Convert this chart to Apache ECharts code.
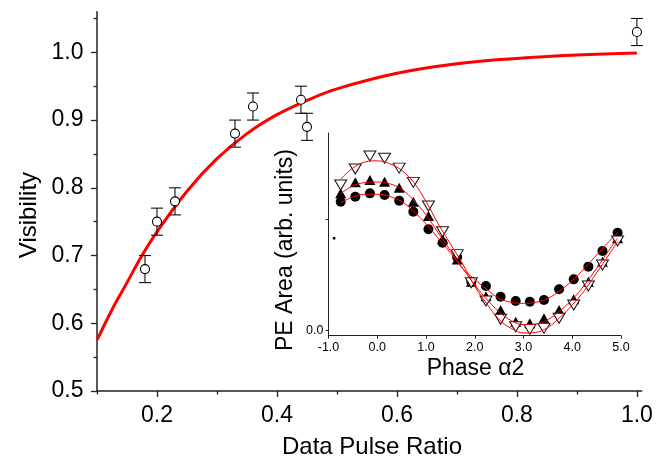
<!DOCTYPE html>
<html>
<head>
<meta charset="utf-8">
<script src="https://cdn.jsdelivr.net/npm/echarts@6/dist/echarts.min.js"></script>
<style>html,body{margin:0;padding:0;background:#fff}#c{width:669px;height:463px}</style>
</head>
<body>
<div id="c"></div>
<script>
// ---- Main chart data ----
const mainX   = [0.18, 0.20, 0.23, 0.33, 0.36, 0.44, 0.45, 1.00];
const mainY   = [0.68, 0.75, 0.78, 0.88, 0.92, 0.93, 0.89, 1.03];
const mainErr = [0.02, 0.02, 0.02, 0.02, 0.02, 0.02, 0.02, 0.02];
const fitX = [0.10, 0.125, 0.15, 0.175, 0.20, 0.25, 0.30, 0.35, 0.40, 0.45, 0.50, 0.60, 0.70, 0.80, 0.90, 1.00];
const fitY = [0.575, 0.620, 0.660, 0.700, 0.735, 0.795, 0.843, 0.880, 0.908, 0.929, 0.946, 0.969, 0.983, 0.991, 0.996, 0.999];
const mainXTicks = [0.2, 0.4, 0.6, 0.8, 1.0];
const mainXMinor = [0.1, 0.3, 0.5, 0.7, 0.9];
const mainYTicks = [0.5, 0.6, 0.7, 0.8, 0.9, 1.0];
const mainYMinor = [0.55, 0.65, 0.75, 0.85, 0.95, 1.05];

// ---- Inset data ----
const phaseX = [-0.75, -0.45, -0.15, 0.15, 0.45, 0.74, 1.05, 1.34, 1.64, 1.93, 2.23, 2.53, 2.84, 3.13, 3.42, 3.73, 4.03, 4.33, 4.62, 4.93];
const downTri = [1.308, 1.452, 1.568, 1.548, 1.460, 1.332, 1.119, 0.889, 0.683, 0.431, 0.267, 0.102, 0.036, 0.012, 0.021, 0.111, 0.231, 0.401, 0.590, 0.805];
const upTri   = [1.233, 1.332, 1.353, 1.337, 1.284, 1.158, 1.030, 0.820, 0.640, 0.440, 0.310, 0.186, 0.081, 0.066, 0.111, 0.186, 0.282, 0.440, 0.620, 0.830];
const circ    = [1.158, 1.203, 1.233, 1.218, 1.167, 1.068, 0.910, 0.790, 0.660, 0.440, 0.401, 0.305, 0.267, 0.260, 0.276, 0.372, 0.461, 0.575, 0.715, 0.880];
const insetFitX = [-0.75, -0.5, -0.25, 0, 0.25, 0.5, 0.75, 1.0, 1.25, 1.5, 1.75, 2.0, 2.25, 2.5, 2.75, 3.0, 3.25, 3.5, 3.75, 4.0, 4.25, 4.5, 4.75, 4.93];
const fitDown = [1.36, 1.46, 1.515, 1.525, 1.50, 1.44, 1.33, 1.16, 0.96, 0.78, 0.60, 0.40, 0.24, 0.10, 0.02, -0.02, -0.015, 0.03, 0.12, 0.23, 0.36, 0.52, 0.68, 0.80];
const fitUp   = [1.23, 1.30, 1.33, 1.335, 1.32, 1.27, 1.17, 1.04, 0.88, 0.72, 0.56, 0.41, 0.28, 0.17, 0.09, 0.055, 0.06, 0.10, 0.18, 0.28, 0.41, 0.56, 0.72, 0.83];
const fitCirc = [1.15, 1.20, 1.225, 1.225, 1.205, 1.16, 1.07, 0.96, 0.83, 0.70, 0.56, 0.46, 0.37, 0.29, 0.255, 0.245, 0.255, 0.29, 0.36, 0.45, 0.56, 0.68, 0.80, 0.88];
const strayX = [-0.885];
const strayY = [0.83];
const insetYTicks = [0, 1];
const insetYLabels = [0];

const pair = (xs, ys) => xs.map((x, i) => [x, ys[i]]);
const FONT = 'Liberation Sans, Arial, Helvetica, sans-serif';
const AX = '#222';

const chart = echarts.init(document.getElementById('c'), null, {renderer: 'canvas'});
chart.setOption({
  animation: false,
  backgroundColor: '#fff',
  grid: [
    {left: 97, right: 27.3, top: 11.7, bottom: 72},
    {left: 328.5, right: 48, top: 133, bottom: 127.3}
  ],
  xAxis: [
    {type: 'value', gridIndex: 0, min: 0.1, max: 1.008, position: 'bottom',
     splitLine: {show: false},
     axisLine: {onZero: false, lineStyle: {color: AX, width: 1.5}},
     axisTick: {customValues: mainXTicks, length: 6, lineStyle: {color: AX, width: 1.3}},
     axisLabel: {customValues: mainXTicks, formatter: v => v.toFixed(1), fontSize: 23, fontFamily: FONT, color: '#000', margin: 13}},
    {type: 'value', gridIndex: 0, min: 0.1, max: 1.008, position: 'bottom',
     splitLine: {show: false}, axisLine: {show: false, onZero: false},
     axisTick: {customValues: mainXMinor, length: 3.5, lineStyle: {color: AX, width: 1.3}},
     axisLabel: {show: false}},
    {type: 'value', gridIndex: 1, min: -1, max: 5, interval: 1, position: 'bottom',
     splitLine: {show: false},
     axisLine: {onZero: false, lineStyle: {color: AX, width: 1}},
     axisTick: {length: 3, lineStyle: {color: AX, width: 1}},
     axisLabel: {formatter: v => v.toFixed(1), fontSize: 12.5, fontFamily: FONT, color: '#000', margin: 5}}
  ],
  yAxis: [
    {type: 'value', gridIndex: 0, min: 0.5, max: 1.06, position: 'left',
     splitLine: {show: false},
     axisLine: {onZero: false, lineStyle: {color: AX, width: 1.5}},
     axisTick: {customValues: mainYTicks, length: 6, lineStyle: {color: AX, width: 1.3}},
     axisLabel: {customValues: mainYTicks, formatter: v => v.toFixed(1), fontSize: 23, fontFamily: FONT, color: '#000', margin: 13.5}},
    {type: 'value', gridIndex: 0, min: 0.5, max: 1.06, position: 'left',
     splitLine: {show: false}, axisLine: {show: false, onZero: false},
     axisTick: {customValues: mainYMinor, length: 3.5, lineStyle: {color: AX, width: 1.3}},
     axisLabel: {show: false}},
    {type: 'value', gridIndex: 1, min: -0.045, max: 1.775, position: 'left',
     splitLine: {show: false},
     axisLine: {onZero: false, lineStyle: {color: AX, width: 1}},
     axisTick: {customValues: insetYTicks, length: 3, lineStyle: {color: AX, width: 1}},
     axisLabel: {customValues: insetYLabels, formatter: v => v.toFixed(1), fontSize: 12.5, fontFamily: FONT, color: '#000', margin: 5}}
  ],
  graphic: [
    {type: 'text', x: 29.3, y: 215, rotation: Math.PI / 2,
     style: {text: 'Visibility', font: '24px ' + FONT, fill: '#000', align: 'center', verticalAlign: 'middle'}},
    {type: 'text', x: 372, y: 447.7,
     style: {text: 'Data Pulse Ratio', font: '24px ' + FONT, fill: '#000', align: 'center', verticalAlign: 'middle'}},
    {type: 'text', x: 286, y: 250, rotation: Math.PI / 2,
     style: {text: 'PE Area (arb. units)', font: '23px ' + FONT, fill: '#000', align: 'center', verticalAlign: 'middle'}},
    {type: 'text', x: 475.5, y: 369,
     style: {text: 'Phase \u03b12', font: '23px ' + FONT, fill: '#000', align: 'center', verticalAlign: 'middle'}}
  ],
  series: [
    {type: 'line', xAxisIndex: 0, yAxisIndex: 0, data: pair(fitX, fitY), smooth: 0.4,
     showSymbol: false, lineStyle: {color: '#ff0000', width: 3}, z: 1},
    {type: 'custom', xAxisIndex: 0, yAxisIndex: 0, z: 2,
     data: mainX.map((x, i) => [x, mainY[i] - mainErr[i], mainY[i] + mainErr[i]]),
     encode: {x: 0, y: [1, 2]},
     renderItem: function (params, api) {
       const lo = api.coord([api.value(0), api.value(1)]);
       const hi = api.coord([api.value(0), api.value(2)]);
       const hw = 6;
       const st = {stroke: '#111', lineWidth: 1.1};
       return {type: 'group', children: [
         {type: 'line', shape: {x1: lo[0], y1: lo[1], x2: hi[0], y2: hi[1]}, style: st},
         {type: 'line', shape: {x1: lo[0] - hw, y1: lo[1], x2: lo[0] + hw, y2: lo[1]}, style: st},
         {type: 'line', shape: {x1: hi[0] - hw, y1: hi[1], x2: hi[0] + hw, y2: hi[1]}, style: st}
       ]};
     }},
    {type: 'scatter', xAxisIndex: 0, yAxisIndex: 0, data: pair(mainX, mainY), symbol: 'circle', symbolSize: 9,
     itemStyle: {color: '#fff', borderColor: '#000', borderWidth: 1.1, opacity: 1}, z: 3},

    {type: 'scatter', xAxisIndex: 2, yAxisIndex: 2, data: pair(strayX, strayY), symbol: 'rect', symbolSize: 2.5,
     itemStyle: {color: '#000', opacity: 1}, z: 3},
    {type: 'scatter', xAxisIndex: 2, yAxisIndex: 2, data: pair(phaseX, circ), symbol: 'circle', symbolSize: 10,
     itemStyle: {color: '#000', opacity: 1}, z: 3},
    {type: 'scatter', xAxisIndex: 2, yAxisIndex: 2, data: pair(phaseX, upTri), symbol: 'triangle', symbolSize: [11, 10],
     itemStyle: {color: '#000', opacity: 1}, z: 3},
    {type: 'scatter', xAxisIndex: 2, yAxisIndex: 2, data: pair(phaseX, downTri), symbol: 'triangle', symbolRotate: 180, symbolSize: [12, 10],
     itemStyle: {color: '#fff', borderColor: '#111', borderWidth: 1, opacity: 1}, z: 3},
    {type: 'line', xAxisIndex: 2, yAxisIndex: 2, data: pair(insetFitX, fitDown), smooth: 0.4, showSymbol: false,
     lineStyle: {color: '#ff0000', width: 1}, z: 4},
    {type: 'line', xAxisIndex: 2, yAxisIndex: 2, data: pair(insetFitX, fitUp), smooth: 0.4, showSymbol: false,
     lineStyle: {color: '#ff0000', width: 1}, z: 4},
    {type: 'line', xAxisIndex: 2, yAxisIndex: 2, data: pair(insetFitX, fitCirc), smooth: 0.4, showSymbol: false,
     lineStyle: {color: '#ff0000', width: 1}, z: 4}
  ]
});
</script>
</body>
</html>
